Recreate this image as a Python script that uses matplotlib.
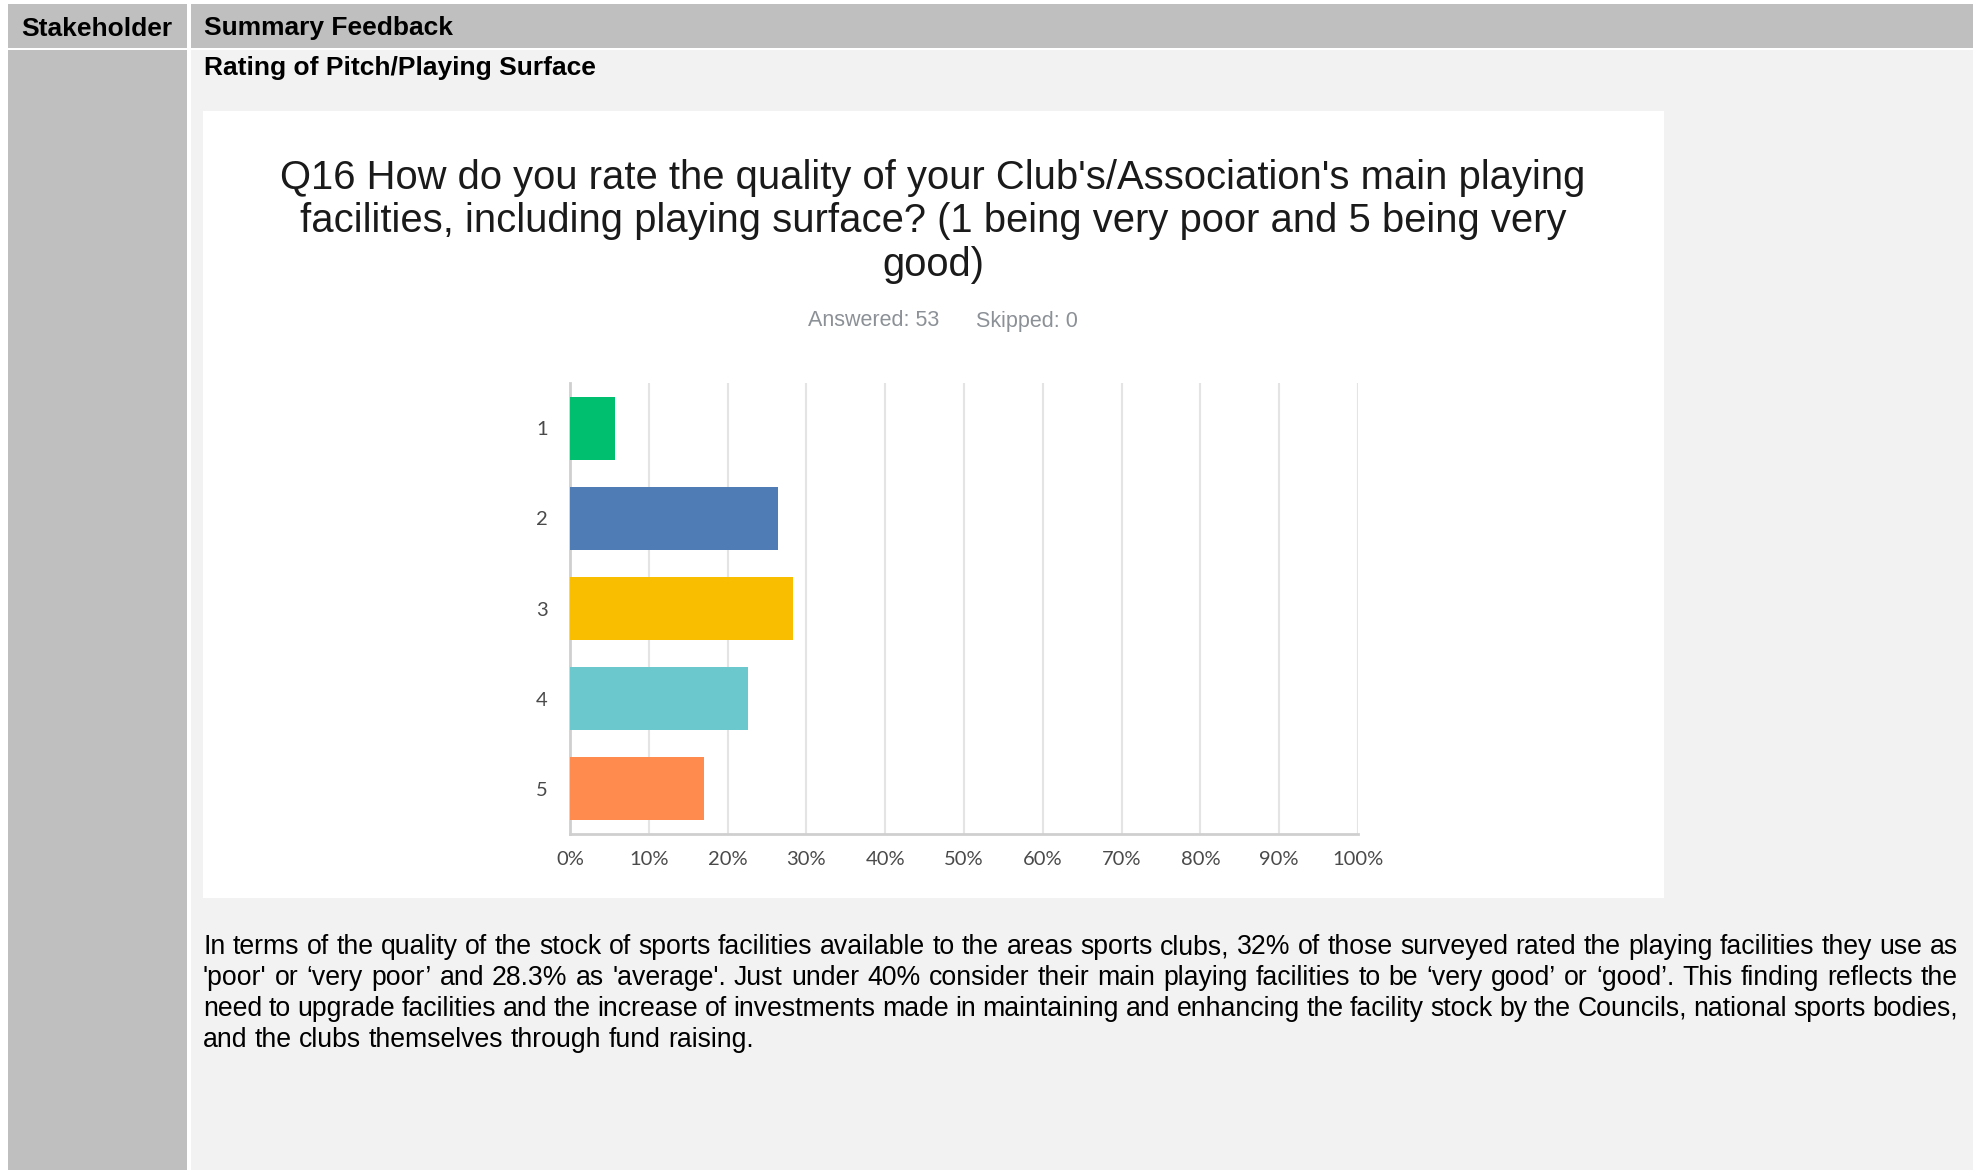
import matplotlib
matplotlib.use("Agg")
import matplotlib.pyplot as plt
from matplotlib.patches import Rectangle

# Survey data: Q16 rating of main playing facilities (53 answered)
ratings = ["1", "2", "3", "4", "5"]
counts = [3, 14, 15, 12, 9]
answered = 53
skipped = 0
pct = [c / answered * 100 for c in counts]
bar_colors = ["#00bf6f", "#507cb6", "#f9be00", "#6bc8cd", "#ff8b4f"]
xticks = list(range(0, 101, 10))
xtick_labels = [f"{t}%" for t in xticks]

header_left = "Stakeholder"
header_right = "Summary Feedback"
section_title = "Rating of Pitch/Playing Surface"
chart_title = ["Q16 How do you rate the quality of your Club's/Association's main playing",
               "facilities, including playing surface? (1 being very poor and 5 being very",
               "good)"]
body_lines = [
    "In terms of the quality of the stock of sports facilities available to the areas sports clubs, 32% of those surveyed rated the playing facilities they use as",
    "'poor' or \u2018very poor\u2019 and 28.3% as 'average'. Just under 40% consider their main playing facilities to be \u2018very good\u2019 or \u2018good\u2019. This finding reflects the",
    "need to upgrade facilities and the increase of investments made in maintaining and enhancing the facility stock by the Councils, national sports bodies,",
    "and the clubs themselves through fund raising.",
]

W, H = 1977, 1170
fig = plt.figure(figsize=(W / 100, H / 100), dpi=100)
fig.patch.set_facecolor("white")

# background axes in pixel coordinates
bg = fig.add_axes([0, 0, 1, 1])
bg.set_xlim(0, W)
bg.set_ylim(H, 0)
bg.axis("off")

hdr_gray = "#bfbfbf"
body_gray = "#f2f2f2"
bg.add_patch(Rectangle((8, 4), 179, 44, color=hdr_gray, lw=0))
bg.add_patch(Rectangle((191, 4), 1782, 44, color=hdr_gray, lw=0))
bg.add_patch(Rectangle((8, 50), 179, H - 50, color=hdr_gray, lw=0))
bg.add_patch(Rectangle((191, 50), 1782, H - 50, color=body_gray, lw=0))
bg.add_patch(Rectangle((203, 111), 1461, 787, color="white", lw=0))

bold = dict(family="Liberation Sans", fontweight="bold", color="black", va="center")
bg.text(21, 28.5, header_left, fontsize=19, **bold)
bg.text(204, 28.5, header_right, fontsize=19, **bold)
bg.text(204, 68.5, section_title, fontsize=19, **bold)

for i, line in enumerate(chart_title):
    bg.text(933, 178 + i * 43.5, line, fontsize=28.8, family="Liberation Sans",
            color="#1a1a1a", ha="center", va="center")
bg.text(874, 321, f"Answered: {answered}", fontsize=15.5, family="Liberation Sans",
        color="#8c9197", ha="center", va="center")
bg.text(1027, 321, f"Skipped: {skipped}", fontsize=15.5, family="Liberation Sans",
        color="#8c9197", ha="center", va="center")

# body paragraph, justified except last line (words placed on a common baseline)
renderer = fig.canvas.get_renderer()
left, right = 203, 1958
fs = 19.15
for i, line in enumerate(body_lines):
    y = 954.5 + i * 30.7
    words = line.split(" ")
    arts = [bg.text(0, y, w, fontsize=fs, family="Liberation Sans", color="black",
                    va="baseline", ha="left") for w in words]
    widths = [a.get_window_extent(renderer).width for a in arts]
    if i < len(body_lines) - 1:
        gap = (right - left - sum(widths)) / (len(words) - 1)
    else:
        gap = fs * 100 / 72 * 0.278
    x = left
    for a, w in zip(arts, widths):
        a.set_x(x)
        x += w + gap

# chart
ax = fig.add_axes([570 / W, 1 - 834 / H, 788 / W, 451 / H])
ax.set_facecolor("white")
ypos = list(range(len(ratings)))
ax.barh(ypos, pct, height=0.7, color=bar_colors, zorder=3)
ax.set_xlim(0, 100)
ax.set_ylim(len(ratings) - 0.5, -0.5)
ax.set_xticks(xticks)
ax.set_xticklabels(xtick_labels, fontsize=14.5, family="Lato", color="#4a4a4a")
ax.set_yticks(ypos)
ax.set_yticklabels(ratings, fontsize=14.5, family="Lato", color="#4a4a4a")
ax.tick_params(axis="x", length=0, pad=12)
ax.tick_params(axis="y", length=0, pad=16)
ax.grid(axis="x", color="#e4e4e4", lw=1.5, zorder=0)
for s in ["top", "right"]:
    ax.spines[s].set_visible(False)
for s in ["left", "bottom"]:
    ax.spines[s].set_color("#cfcfcf")
    ax.spines[s].set_linewidth(2)

fig.savefig("out.png", dpi=100)
